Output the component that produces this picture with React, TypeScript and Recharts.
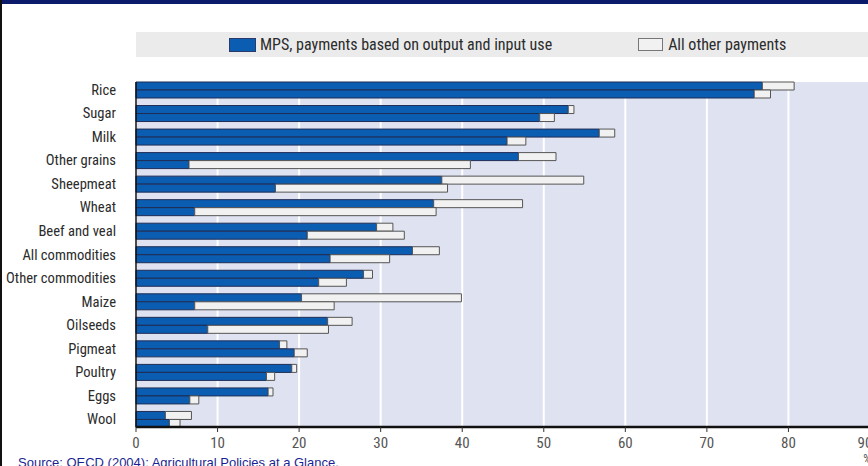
import {
  BarChart,
  Bar,
  XAxis,
  YAxis,
  CartesianGrid,
  Legend,
} from "recharts";

// Commodity rows, top to bottom
const categories = [
  "Rice",
  "Sugar",
  "Milk",
  "Other grains",
  "Sheepmeat",
  "Wheat",
  "Beef and veal",
  "All commodities",
  "Other commodities",
  "Maize",
  "Oilseeds",
  "Pigmeat",
  "Poultry",
  "Eggs",
  "Wool",
];

// Upper bar of each pair
const mpsTop = [76.8, 53.0, 56.8, 46.9, 37.5, 36.5, 29.5, 33.9, 27.9, 20.3, 23.5, 17.6, 19.1, 16.2, 3.6];
const otherTop = [3.9, 0.7, 1.9, 4.6, 17.4, 10.9, 2.0, 3.3, 1.1, 19.6, 3.0, 0.9, 0.6, 0.6, 3.2];

// Lower bar of each pair
const mpsBottom = [75.8, 49.5, 45.5, 6.5, 17.1, 7.2, 21.0, 23.8, 22.4, 7.2, 8.8, 19.4, 16.0, 6.6, 4.1];
const otherBottom = [2.0, 1.8, 2.3, 34.5, 21.1, 29.6, 11.9, 7.3, 3.4, 17.1, 14.8, 1.6, 1.0, 1.1, 1.3];

const xTicks = [0, 10, 20, 30, 40, 50, 60, 70, 80, 90];

const legendLabels = ["MPS, payments based on output and input use", "All other payments"];

const BLUE = "#0b5db2";
const PALE = "#f1f1f1";
const NARROW = "'Liberation Sans Narrow', 'Arial Narrow', 'Roboto Condensed', sans-serif";

const data = categories.map((name, i) => ({
  name,
  mpsTop: mpsTop[i],
  otherTop: otherTop[i],
  mpsBottom: mpsBottom[i],
  otherBottom: otherBottom[i],
}));

// Category labels, right-aligned against the axis
const CategoryTick = (props: { x?: number; y?: number; payload?: { value: string } }) => {
  const x = Number(props.x ?? 0);
  const y = Number(props.y ?? 0);
  return (
    <text x={x - 12} y={y} dy={5} textAnchor="end" fontSize={14.6} fill="#2b2b2b" fontFamily={NARROW}>
      {props.payload?.value}
    </text>
  );
};

// Value ticks; the last one carries the % unit underneath
const ValueTick = (props: { x?: number; y?: number; payload?: { value: number } }) => {
  const x = Number(props.x ?? 0);
  const y = Number(props.y ?? 0);
  const v = props.payload?.value;
  const tx = v === 90 ? x - 5 : x;
  return (
    <g>
      <text x={tx} y={y + 14} textAnchor="middle" fontSize={15} fill="#555" fontFamily={NARROW}>
        {v}
      </text>
      {v === 90 && (
        <text x={x - 3} y={y + 29} textAnchor="middle" fontSize={12} fill="#555" fontFamily={NARROW}>
          %
        </text>
      )}
    </g>
  );
};

const LegendContent = () => (
  <div
    style={{
      background: "#ebebeb",
      height: 25,
      display: "flex",
      alignItems: "center",
      fontFamily: NARROW,
      fontSize: 16,
      color: "#2b2b2b",
    }}
  >
    <span
      style={{
        display: "inline-block",
        width: 25,
        height: 12,
        background: BLUE,
        border: "1px solid #2a3a6a",
        marginLeft: 93,
        marginRight: 4,
      }}
    />
    <span>{legendLabels[0]}</span>
    <span
      style={{
        display: "inline-block",
        width: 23,
        height: 11,
        background: PALE,
        border: "1px solid #777",
        marginLeft: 86,
        marginRight: 5,
      }}
    />
    <span>{legendLabels[1]}</span>
  </div>
);

export default function App() {
  return (
    <div
      style={{
        position: "fixed",
        left: 0,
        top: 0,
        width: 868,
        height: 466,
        overflow: "hidden",
        background: "#fff",
      }}
    >
      {/* frame */}
      <div style={{ position: "absolute", left: 0, top: 0, width: 868, height: 4, background: "#0c1a6b" }} />
      <div style={{ position: "absolute", left: 0, top: 0, width: 2, height: 466, background: "#111" }} />

      <BarChart
        width={870}
        height={466}
        data={data}
        layout="vertical"
        margin={{ top: 82, right: 0, left: 0, bottom: 9 }}
        barSize={8}
        barGap={0}
      >
        <CartesianGrid horizontal={false} stroke="#fff" strokeWidth={2} fill="#dfe3f1" />
        <XAxis
          type="number"
          domain={[0, 90]}
          ticks={xTicks}
          interval={0}
          height={30}
          tick={<ValueTick />}
          tickSize={5}
          tickLine={{ stroke: "#333" }}
          axisLine={{ stroke: "#111", strokeWidth: 2.5 }}
        />
        <XAxis
          xAxisId="top"
          orientation="top"
          type="number"
          domain={[0, 90]}
          height={0}
          tick={false}
          tickLine={false}
          axisLine={{ stroke: "#111", strokeWidth: 2 }}
        />
        <YAxis
          type="category"
          dataKey="name"
          width={136}
          padding={{ top: -4, bottom: -4 }}
          tick={<CategoryTick />}
          tickLine={false}
          axisLine={{ stroke: "#111", strokeWidth: 1.5 }}
          interval={0}
        />
        <Legend
          verticalAlign="middle"
          align="center"
          content={<LegendContent />}
          wrapperStyle={{ top: 32, left: 136, width: 740, height: 25 }}
        />
        <Bar dataKey="mpsTop" stackId="top" fill={BLUE} stroke="#1f2d55" strokeWidth={1} isAnimationActive={false} />
        <Bar dataKey="otherTop" stackId="top" fill={PALE} stroke="#555" strokeWidth={1} isAnimationActive={false} />
        <Bar dataKey="mpsBottom" stackId="bottom" fill={BLUE} stroke="#1f2d55" strokeWidth={1} isAnimationActive={false} />
        <Bar dataKey="otherBottom" stackId="bottom" fill={PALE} stroke="#555" strokeWidth={1} isAnimationActive={false} />
      </BarChart>

      <div
        style={{
          position: "absolute",
          left: 18,
          top: 455,
          fontFamily: "'Liberation Sans', Arial, sans-serif",
          fontSize: 13,
          color: "#1b1f93",
          whiteSpace: "nowrap",
        }}
      >
        Source: OECD (2004): Agricultural Policies at a Glance.
      </div>
    </div>
  );
}
